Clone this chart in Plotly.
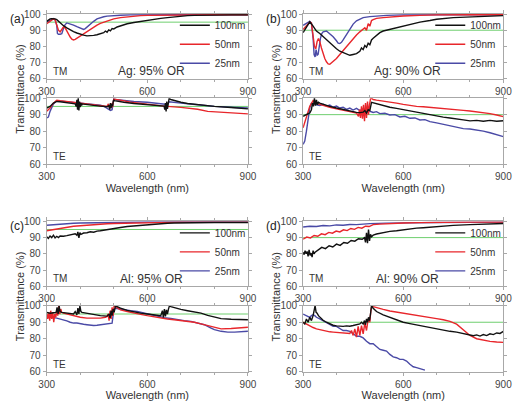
import plotly.graph_objects as go

# ---------------- data ----------------
series_names = ["100nm", "50nm", "25nm"]
panel_labels = ["(a)", "(b)", "(c)", "(d)"]
panel_titles = ["Ag: 95% OR", "Ag: 90% OR", "Al: 95% OR", "Al: 90% OR"]
thresholds = [95, 90, 95, 90]
x_ticks = [300, 600, 900]
y_ticks = [60, 70, 80, 90, 100]

# (a) Ag 95% TM
a_tm_100_x = [300,305,310,315,320,325,330,335,340,345,350,360,370,380,390,400,410,420,430,440,450,460,470,475,480,485,490,495,500,510,520,540,560,580,600,620,640,660,680,700,720,740,760,800,850,900]
a_tm_100_y = [95.5,96.5,97,97.2,97.3,97,96.5,95.5,94.5,93.5,92.8,91.5,90.2,89.2,88.3,87.5,87,86.5,86.5,86.8,87.2,87.8,88.5,89.5,88.8,90.2,89.6,91,90.8,92,92.8,94,94.8,95.5,96.2,96.8,97.3,97.8,98.3,98.7,99,99.2,99.3,99.4,99.5,99.5]
a_tm_50_x = [300,310,320,325,330,335,340,345,350,355,360,365,370,375,380,385,390,400,410,420,430,440,450,460,470,480,490,500,520,540,560,580,600,650,700,800,900]
a_tm_50_y = [94,95.5,97,96.5,93.5,90,89,90.5,92,91.5,89.5,87.5,85.8,84.5,84,84.3,85,86.5,88,89.5,90.8,92,93.2,94.2,95,95.8,96.5,97,97.8,98.3,98.7,99,99.2,99.4,99.5,99.6,99.6]
a_tm_25_x = [300,310,320,325,330,332,335,340,345,350,355,360,370,380,390,400,405,410,415,420,430,440,450,460,470,480,500,520,550,600,700,900]
a_tm_25_y = [95,96,97.2,96.5,93,88,87.5,87.5,87.8,91,93.5,94.5,94,93.2,92.2,91.2,90.6,90.5,91,92,93.8,95.5,97,97.8,98.3,98.7,99.1,99.3,99.5,99.6,99.6,99.6]

# (a) Ag 95% TE
a_te_100_x = [300,310,320,330,340,350,360,370,380,385,388,390,392,394,396,398,400,402,404,406,410,420,440,460,480,485,488,490,492,494,496,498,500,502,510,530,560,600,630,650,652,654,656,658,660,662,665,670,680,700,720,750,800,850,900]
a_te_100_y = [94,95,97,98,97.8,97.5,97.2,97,96.8,96.5,95,99,93,100,92.5,98,94.5,97,95.5,96.5,96.4,96,95.6,95.2,94.8,95.5,93,97,94,96.5,95,97.5,99,98.5,98.2,97.5,96.8,96,95.5,95.2,93,97,92,98,93.5,97,99.8,99.2,98.5,97.5,96.8,96,95,94.3,93.5]
a_te_50_x = [300,310,320,330,340,360,380,400,420,440,460,470,480,484,488,492,496,500,505,520,550,600,650,700,750,780,800,850,900]
a_te_50_y = [92,94,97,98.8,98.5,98,97.5,97,96.5,96,95.7,95.4,95,96.5,94.2,96.8,94.5,99.5,99.4,98.8,97.6,96.2,95.2,94.4,93.3,92,91.8,91,90.5]
a_te_25_x = [300,305,310,320,330,340,360,380,400,420,440,460,470,480,485,490,495,500,510,530,560,600,640,660,665,680,700,750,800,850,900]
a_te_25_y = [88,88.5,92,96.5,98.5,98.3,97.8,97.3,97,96.6,96.2,95.7,95.2,94,93,92.5,93,99.5,99,98.5,98,97.5,96.8,96.2,97.8,97.4,97,96,95,94.5,94]

# (b) Ag 90% TM
b_tm_100_x = [300,310,320,330,340,350,360,370,380,390,400,410,420,430,440,450,460,470,475,480,485,490,495,500,505,510,520,530,540,560,580,600,620,650,680,700,750,800,850,900]
b_tm_100_y = [88.5,92,95.2,92.5,89.5,88,86,84,82,80.2,78.5,77,76,75.5,74.5,75,75.5,77,79,78,80.5,79.5,82,81,84,85,87,88.5,89.5,90.5,91.5,92.5,93.5,95,96,96.8,97.8,98.3,98.7,99]
b_tm_50_x = [300,310,320,325,330,334,338,342,346,350,355,360,365,370,375,380,390,400,410,420,430,440,450,460,470,480,485,490,495,500,505,510,520,540,560,600,650,700,800,900]
b_tm_50_y = [90.5,93,95,94.5,88,80,78.5,83,84.8,83,79,75.5,72.5,70.5,69.2,69,70.5,72.5,75,77.5,80,82.5,85,87,89,90.5,91.5,90,94,92.5,96,96.5,97.3,97.8,98.2,98.8,99.2,99.5,99.6,99.6]
b_tm_25_x = [300,310,320,325,330,333,336,339,342,345,348,352,356,360,370,380,390,400,405,410,415,420,430,440,450,460,470,480,500,520,550,600,700,900]
b_tm_25_y = [93,94.5,95.5,94.5,85,75,73.5,78,74.5,75,80,85,88,89,89.5,88,86,83.5,82,81.8,82.5,84,87.5,91,93.8,95.8,97,97.8,98.4,98.8,99.2,99.5,99.6,99.6]

# (b) Ag 90% TE
b_te_100_x = [300,310,320,325,328,331,334,337,340,343,346,350,360,380,400,420,440,460,470,480,485,490,495,500,505,510,520,540,560,580,600,620,640,660,680,700,720,740,760,780,800,820,840,860,880,900]
b_te_100_y = [89,90,91,93,97,95,100,95.5,99,96,97.5,97,96.2,95,94,93,92,91.4,91.2,91.5,92.5,91,93,92.5,97.5,97.2,96.5,95.5,94.5,93.8,93,92.3,91.6,90.8,90,89.2,88.5,88,87.2,86.8,86.2,86.5,86,86.5,86,86.3]
b_te_50_x = [300,310,320,330,340,350,360,380,400,420,440,460,466,469,472,475,478,481,484,487,490,493,496,499,502,505,510,520,540,560,580,600,620,640,660,680,700,720,740,760,780,800,820,840,860,880,900]
b_te_50_y = [82,88,95,98.5,97,96.2,95.5,94.5,93.5,92.5,91.8,91,89,93,88,95,87.5,96,86,97,88,98,90,96,99.5,100,99.2,98.8,98.3,97.8,97,96.2,95.5,95,94.8,94.5,94,93.6,93.3,93,92.6,92.2,91.8,91.2,90.6,89.8,88.8]
b_te_25_x = [300,305,310,315,320,325,330,340,350,360,370,380,390,400,410,420,430,440,450,460,470,480,490,500,510,520,530,545,560,575,590,605,620,635,650,665,680,700,720,740,760,780,800,820,840,860,880,900]
b_te_25_y = [72,74,80,88,94,97,97,96,95.5,96.3,95.2,95.8,94.5,95.2,94,94.5,93.2,94,92.8,93.8,92.5,93.5,92.8,92.2,91.3,91.8,90.6,90.8,89.8,90,88.6,89,87.8,88,86.8,87,85.8,85,84.2,83.2,82.3,81.5,81.3,80.8,80,79,78,76.7]

# (c) Al 95% TM
c_tm_100_x = [300,305,310,315,320,325,330,335,340,350,360,370,380,385,390,393,396,399,402,410,420,430,440,450,460,470,480,490,500,520,540,560,580,600,620,640,660,680,700,750,800,850,900]
c_tm_100_y = [90.5,89.5,91,90,91.5,89.8,90.8,90,91,90.8,91.2,91.5,91.8,92.4,91.5,93.5,89.8,93,92,92.8,93,93.6,93.3,94,94.2,94.6,95,95.2,95.6,96.2,96.8,97.2,97.6,98,98.4,98.6,98.8,99,99.1,99.2,99.3,99.3,99.3]
c_tm_50_x = [300,320,340,360,380,400,420,440,460,480,500,550,600,650,700,800,900]
c_tm_50_y = [94.2,95,95.8,96.4,97,97.3,97.7,98,98.3,98.5,98.7,99,99.2,99.4,99.5,99.5,99.5]
c_tm_25_x = [300,320,340,360,380,400,450,500,550,600,700,800,900]
c_tm_25_y = [97.6,98,98.3,98.6,98.8,99,99.2,99.4,99.5,99.6,99.6,99.6,99.6]

# (c) Al 95% TE
c_te_100_x = [300,310,320,328,331,334,337,340,345,350,360,370,380,385,390,393,396,399,402,405,410,420,440,460,480,486,489,492,495,498,501,505,510,520,540,560,580,600,620,640,645,648,651,654,657,660,663,666,670,680,700,720,740,760,780,800,820,850,900]
c_te_100_y = [96,95.5,95.8,96,99,95,100,96.5,96,95.8,95.5,95.3,95,96.5,94.5,98.5,95,100,96.5,96,95.8,95.2,94.5,94,93.7,95,92.5,97,94,98,96,99.8,99.5,98.5,97.2,96.2,95.5,95,94.5,94,97,93,98,93.5,97.5,95,98,100,99.5,98.8,97.8,97,96.3,95.5,94.2,93,92.2,91.8,91.5]
c_te_50_x = [300,303,306,309,312,315,318,321,324,327,330,333,336,339,342,345,350,360,380,400,420,440,460,475,480,483,486,489,492,495,498,501,505,510,520,540,560,580,600,620,640,660,680,700,720,740,760,780,800,820,850,870,900]
c_te_50_y = [95,92,96,91,97,92,96,90,95,93,97,94,100,95,98,96,95.5,95,94,93,92.5,92.4,92.5,93,93.5,95,91,97,92,99,94,100,99.5,98.5,97.5,96.5,95.5,94.8,94,93.2,92.5,92,91.5,91,90.5,90,89,88,87,86,86.2,86.5,87]
c_te_25_x = [300,310,320,330,340,350,360,370,380,390,400,410,420,430,440,450,460,470,480,490,495,500,505,510,530,550,570,590,610,630,650,670,690,710,730,750,770,790,800,820,840,860,880,900]
c_te_25_y = [93.5,93,92.8,92.5,92,91.5,90.8,90,89.5,89.5,89,88.8,88.5,88.2,88,88.2,88.5,89,89.2,89.8,89.5,97.5,98.5,98.3,97.5,97,96.5,95.5,94.5,93.8,92.8,92.3,91.5,91,90.5,89.6,88.5,86.5,85.5,84.5,84,84,84.3,84.5]

# (d) Al 90% TM
d_tm_100_x = [300,303,306,309,312,315,318,321,324,327,330,333,336,345,356,367,378,389,400,411,422,433,444,455,466,477,484,487,490,493,496,499,502,505,510,520,540,560,580,600,620,640,660,680,700,750,800,850,900]
d_tm_100_y = [81,79.5,82,80,81.5,78.5,82.5,79,80.5,78,82,80,81,82.5,84,83.2,85,84.2,86,85.2,87,86.5,88.2,87.8,89.3,89,90,87,93,86.5,95,88,92,90.5,91.5,92.2,93.2,93.8,94.2,94.8,95.3,95.8,96.1,96.5,96.9,97.5,98,98.4,98.7]
d_tm_50_x = [300,311,322,333,344,355,366,377,388,399,410,421,432,443,454,465,476,487,498,510,530,550,580,600,650,700,750,800,900]
d_tm_50_y = [89,90.3,89.8,91.3,90.8,92.3,91.8,93.2,92.7,94,93.5,94.8,94.3,95.6,95.1,96.3,95.8,97,96.8,98,98.3,98.6,98.8,99,99.2,99.4,99.5,99.5,99.5]
d_tm_25_x = [300,320,340,360,380,400,420,440,460,480,500,550,600,700,800,900]
d_tm_25_y = [96.5,97,96.8,97.4,97.2,97.8,97.6,98.1,98,98.4,98.6,98.9,99.1,99.3,99.4,99.5]

# (d) Al 90% TE
d_te_100_x = [300,305,310,315,320,325,330,333,336,339,342,346,350,360,370,380,390,400,410,420,430,440,450,460,470,475,480,484,487,490,493,496,499,502,505,510,520,540,560,580,600,620,640,660,680,700,720,740,760,780,800,810,820,830,840,850,860,870,880,890,900]
d_te_100_y = [90,89,92,90,93,91,94,97,100,96,95.5,94,93,91.2,90,89,88.2,87.8,87.5,87.5,87.8,87.6,88,88.3,89,90,89,91,88.5,92,90,93,91,95,100,98.5,96.5,94.5,93,91.5,90,89.2,88.4,87.6,86.5,85.8,85,84.5,84,83,82,81.8,82.3,81.6,82.5,81.9,83,82.5,83.5,83.2,84.5]
d_te_50_x = [300,310,320,330,340,350,360,370,380,390,400,410,420,430,440,445,450,455,460,465,470,475,480,485,490,495,500,503,506,510,520,540,560,580,600,620,640,660,680,700,720,740,760,780,800,820,840,860,880,900]
d_te_50_y = [90,88.8,87.8,86.8,86,85.5,85,84.5,84.2,84,83.8,83.6,83.3,83.2,83.2,85,82,86,81,87.5,82,88,83,89.5,85,92,90,97,100,99.5,98.8,97.8,96.8,96.2,95.6,95,94.3,93.5,92.8,92.2,91.5,90.5,88.8,85.5,82,80,79,78.4,78,77.8]
d_te_25_x = [300,305,310,315,320,325,330,335,340,350,360,370,380,390,400,410,420,430,440,450,460,470,480,490,500,510,520,530,540,550,560,570,580,590,600,610,620,630,640,650,660,665]
d_te_25_y = [95,94.5,93.5,93,93,94,94.5,94,93,92,91,90,88.5,87.5,87.5,86.5,85,85,84.5,83,81.5,81.5,80.5,78.5,77,77,75.5,73.5,73,72.5,70.5,69,68.5,67.5,67.5,66.5,64.5,63,62.5,62,61.5,61]

panels = [
    [(a_tm_100_x, a_tm_100_y, a_tm_50_x, a_tm_50_y, a_tm_25_x, a_tm_25_y),
     (a_te_100_x, a_te_100_y, a_te_50_x, a_te_50_y, a_te_25_x, a_te_25_y)],
    [(b_tm_100_x, b_tm_100_y, b_tm_50_x, b_tm_50_y, b_tm_25_x, b_tm_25_y),
     (b_te_100_x, b_te_100_y, b_te_50_x, b_te_50_y, b_te_25_x, b_te_25_y)],
    [(c_tm_100_x, c_tm_100_y, c_tm_50_x, c_tm_50_y, c_tm_25_x, c_tm_25_y),
     (c_te_100_x, c_te_100_y, c_te_50_x, c_te_50_y, c_te_25_x, c_te_25_y)],
    [(d_tm_100_x, d_tm_100_y, d_tm_50_x, d_tm_50_y, d_tm_25_x, d_tm_25_y),
     (d_te_100_x, d_te_100_y, d_te_50_x, d_te_50_y, d_te_25_x, d_te_25_y)],
]

# ---------------- style ----------------
W, H = 523, 401
FONT = "Liberation Sans, Arial, sans-serif"
colors = ["#111111", "#e8262b", "#4a4aa6"]
green = "#6fcf6f"
frame = "#a8a8a8"
tick_font = dict(family=FONT, size=10, color="#444444")

def px_x(p):
    return p / W

def px_y(p):
    return 1 - p / H

col_x = [(40, 248), (305, 512)]
row_tm = [(8.3, 75), (222, 289)]
row_te = [(95, 163), (309, 377)]

fig = go.Figure()
layout = dict(width=W, height=H, margin=dict(l=0, r=0, t=0, b=0),
              paper_bgcolor="white", plot_bgcolor="white",
              font=dict(family=FONT, color="#333333"), annotations=[])

ax = 0
for p in range(4):
    col = p % 2
    row = p // 2
    legend_name = "legend" if p == 0 else f"legend{p+1}"
    for m, mode in enumerate(["TM", "TE"]):
        ax += 1
        xa = "x" if ax == 1 else f"x{ax}"
        ya = "y" if ax == 1 else f"y{ax}"
        data = panels[p][m]
        # threshold line
        fig.add_trace(go.Scatter(x=[x_ticks[0], x_ticks[-1]], y=[thresholds[p]] * 2,
                                 mode="lines", line=dict(color=green, width=1),
                                 showlegend=False, xaxis=xa, yaxis=ya, hoverinfo="skip"))
        for s in [2, 1, 0]:
            fig.add_trace(go.Scatter(x=data[2 * s], y=data[2 * s + 1], mode="lines",
                                     name=series_names[s],
                                     line=dict(color=colors[s], width=1.4),
                                     showlegend=(m == 0), legend=legend_name,
                                     xaxis=xa, yaxis=ya))
        y0, y1 = (row_tm if m == 0 else row_te)[row]
        x0, x1 = col_x[col]
        xkey = "xaxis" if ax == 1 else f"xaxis{ax}"
        ykey = "yaxis" if ax == 1 else f"yaxis{ax}"
        xaxis = dict(domain=[px_x(x0), px_x(x1)], anchor=ya, range=[300, 900],
                     tickvals=x_ticks, ticks="outside", ticklen=3, tickcolor=frame,
                     showline=True, linecolor=frame, linewidth=1, mirror="ticks",
                     showgrid=False, zeroline=False, tickfont=tick_font,
                     minor=dict(dtick=100, ticks="outside", ticklen=2, tickcolor=frame))
        if m == 1:
            xaxis["title"] = dict(text="Wavelength (nm)", font=dict(family=FONT, size=11, color="#333"),
                                  standoff=0)
        yaxis = dict(domain=[px_y(y1), px_y(y0)], anchor=xa, range=[60, 100],
                     tickvals=y_ticks, ticks="outside", ticklen=3, tickcolor=frame,
                     showline=True, linecolor=frame, linewidth=1, mirror="ticks",
                     showgrid=False, zeroline=False, tickfont=tick_font)
        layout[xkey] = xaxis
        layout[ykey] = yaxis
        layout["annotations"].append(dict(text=mode, xref=f"{xa} domain", yref=f"{ya} domain",
                                          x=0.02, y=0.0, xanchor="left", yanchor="bottom",
                                          showarrow=False, font=dict(family=FONT, size=10, color="#333")))
        if m == 0:
            layout["annotations"].append(dict(text=panel_titles[p], xref=f"{xa} domain", yref=f"{ya} domain",
                                              x=0.52, y=0.12, xanchor="center", yanchor="middle",
                                              showarrow=False, font=dict(family=FONT, size=12, color="#333")))
            layout[legend_name] = dict(x=px_x(x1 + 3), y=px_y(y1 - 1), xanchor="right", yanchor="bottom",
                                       bgcolor="rgba(0,0,0,0)", borderwidth=0,
                                       font=dict(family=FONT, size=10, color="#333"),
                                       traceorder="reversed", itemwidth=30,
                                       tracegroupgap=0)
    # panel label and y title
    x0 = col_x[col][0]
    ytop = row_tm[row][0]
    ybot = row_te[row][1]
    layout["annotations"].append(dict(text=panel_labels[p], xref="paper", yref="paper",
                                      x=px_x(x0 - 40), y=px_y(ytop + 5), xanchor="left", yanchor="middle",
                                      showarrow=False, font=dict(family=FONT, size=12, color="#222")))
    layout["annotations"].append(dict(text="Transmittance (%)", xref="paper", yref="paper",
                                      x=px_x(x0 - 28), y=px_y((ytop + ybot) / 2), textangle=-90,
                                      xanchor="center", yanchor="middle",
                                      showarrow=False, font=dict(family=FONT, size=11, color="#333")))

fig.update_layout(**layout)
fig.write_html("out.html")
